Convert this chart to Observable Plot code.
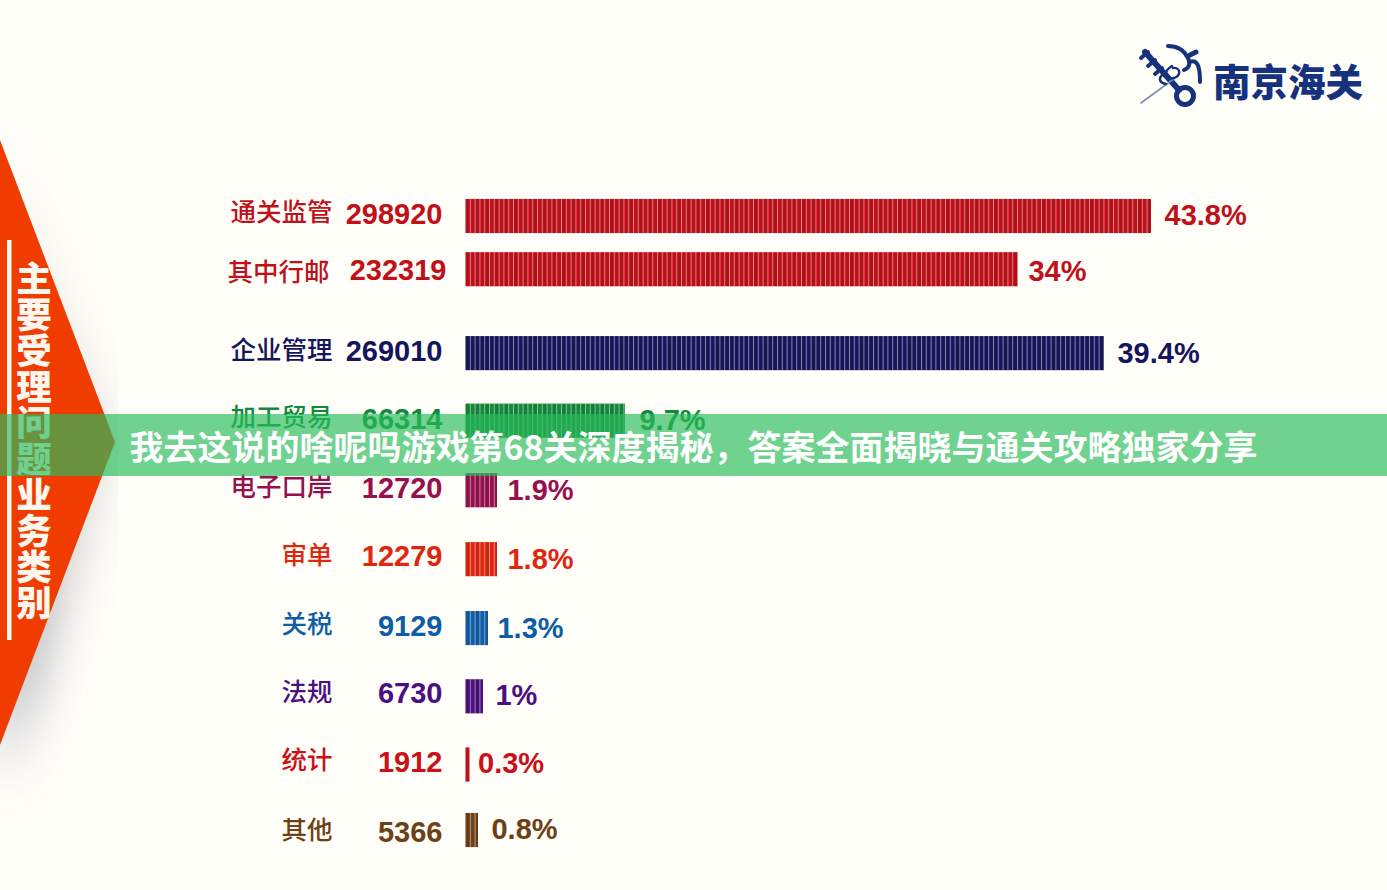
<!DOCTYPE html>
<html lang="zh">
<head>
<meta charset="utf-8">
<script src="https://cdn.jsdelivr.net/npm/d3@7"></script>
<script src="https://cdn.jsdelivr.net/npm/@observablehq/plot@0.6"></script>
<style>
html,body{margin:0;padding:0;background:#fffef9;width:1387px;height:890px;overflow:hidden;}
#stage{position:relative;width:1387px;height:890px;font-family:"Noto Sans CJK SC",sans-serif;}
#stage>*{position:absolute;left:0;top:0;}
#band{top:414px;width:1387px;height:62px;background:rgba(40,188,91,.67);color:#fff;font-weight:700;font-size:34px;line-height:63px;text-align:center;white-space:nowrap;}
#vertical{left:12px;top:259px;width:44px;color:#fff6ee;font-weight:900;font-size:35.5px;line-height:36px;text-align:center;}
#logoText{left:1213px;top:57px;color:#17327c;font-weight:900;font-size:37.5px;line-height:46px;white-space:nowrap;}
</style>
</head>
<body>
<div id="stage">
<svg width="1387" height="890" viewBox="0 0 1387 890">
  <defs>
    <filter id="blur" x="-60%" y="-30%" width="220%" height="160%"><feGaussianBlur stdDeviation="26"/></filter>
    <linearGradient id="shade" x1="0" y1="0" x2="0" y2="1">
      <stop offset="0" stop-color="#bbb" stop-opacity=".15"/>
      <stop offset=".55" stop-color="#999" stop-opacity=".5"/>
      <stop offset=".85" stop-color="#889" stop-opacity=".85"/>
      <stop offset="1" stop-color="#889" stop-opacity=".5"/>
    </linearGradient>
    <clipPath id="shadeClip"><rect x="0" y="120" width="118" height="720"/></clipPath>
    <pattern id="seps" patternUnits="userSpaceOnUse" x="465" y="0" width="9.6" height="10">
      <rect x="0" y="0" width="1" height="10" fill="#fff3ec" fill-opacity=".5"/>
      <rect x="1" y="0" width="3.8" height="10" fill="#000" fill-opacity=".07"/>
      <rect x="4.8" y="0" width="1" height="10" fill="#fff3ec" fill-opacity=".5"/>
    </pattern>
  </defs>
  <g clip-path="url(#shadeClip)">
    <polygon points="0,150 105,440 0,790" fill="url(#shade)" filter="url(#blur)"/>
  </g>
  <polygon points="0,140 115,442 0,745" fill="#f03c00"/>
  <rect x="7" y="240" width="4.5" height="400" fill="#fff6ee"/>
  <g id="logoMark" fill="none" stroke="#17327c" stroke-linecap="round">
    <circle cx="1185" cy="96" r="8.5" stroke-width="5"/>
    <path d="M1179 90 L1145 52" stroke-width="6"/>
    <path d="M1148 66 l7 -6 M1155 74 l7 -6 M1141 58 l7 -6" stroke-width="4"/>
    <path d="M1175 78 L1141 103" stroke="#7d8db5" stroke-width="1.6"/>
    <path d="M1172 66 c-10 6 -6 14 2 12 c8 -3 6 -11 -1 -10 M1166 84 c-6 -1 -8 -5 -4 -9" stroke-width="2.4"/>
    <path d="M1168 46 c10 0 16 4 20 12 c3 6 1 10 -4 12 M1189 62 c8 -3 11 3 11 20" stroke-width="4"/>
    <path d="M1190 55 l6 -3" stroke-width="5"/>
  </g>
</svg>
<div id="chart"></div>
<div id="vertical">主要受理问题业务类别</div>
<div id="logoText">南京海关</div>
<div id="band">我去这说的啥呢吗游戏第68关深度揭秘，答案全面揭晓与通关攻略独家分享</div>
</div>
<script>
// Categories and the figures printed beside them
const categories = ["通关监管","其中行邮","企业管理","加工贸易","电子口岸","审单","关税","法规","统计","其他"];
const counts = [298920,232319,269010,66314,12720,12279,9129,6730,1912,5366];
const shares = ["43.8%","34%","39.4%","9.7%","1.9%","1.8%","1.3%","1%","0.3%","0.8%"];
// Bar lengths as drawn in the picture, in the same units as the largest count
const drawnLengths = [298920,240950,278430,69700,13940,13940,10020,7840,1960,5660];

// Layout only: row slots (rows are unevenly spaced) and per-row text nudges in pixels
const rowSlots = [0,0.78,2.01,3,4.02,5.03,6.04,7.04,8.04,9];
const labelNudgeY = [-4,3,-3,-3,-3,-4,-4,-4,-4,0];
const countNudgeY = [-2,1,-2,-1,-2,-3,-2,-3,-2,2];
const shareNudgeY = [-1,2,0,0,0,0,0,-1,-1,-1];
const shareGapPx = [13,10,13,14,10,10,9,12,8,13];
const palette = ["#c0101a","#c0101a","#15155e","#12893c","#96104f","#e0260f","#0e5da8","#4a0f80","#cc1018","#6e4015"];

const PX_Y = 614/9, PX_X = 686/298920;
const rows = categories.map((name,i)=>({
  name,count:String(counts[i]),share:shares[i],len:drawnLengths[i],slot:rowSlots[i],
  labelY:rowSlots[i]+labelNudgeY[i]/PX_Y,
  countY:rowSlots[i]+countNudgeY[i]/PX_Y,
  shareY:rowSlots[i]+shareNudgeY[i]/PX_Y,
  shareX:drawnLengths[i]+shareGapPx[i]/PX_X,
  labelX:i===1?-3/PX_X:0,
  countX:i===1?4/PX_X:0
}));
const latin = '"Liberation Sans",Arial,sans-serif';

const chart = Plot.plot({
  width:1387,height:890,margin:0,
  style:{background:"transparent",fontFamily:latin},
  x:{domain:[0,298920],range:[465,1151],axis:null},
  y:{domain:[0,9],range:[216,830],axis:null},
  color:{domain:categories,range:palette},
  marks:[
    Plot.rect(rows,{x1:0,x2:"len",y1:d=>d.slot-.25,y2:d=>d.slot+.25,fill:"name"}),
    Plot.rect(rows,{x1:0,x2:"len",y1:d=>d.slot-.25,y2:d=>d.slot+.25,fill:"url(#seps)"}),
    Plot.text(rows,{x:"labelX",y:"labelY",text:"name",fill:"name",textAnchor:"end",dx:-133,fontSize:25.5,fontFamily:'"Noto Sans CJK SC"',fontWeight:500}),
    Plot.text(rows,{x:"countX",y:"countY",text:"count",fill:"name",textAnchor:"end",dx:-23,fontSize:29,fontWeight:700}),
    Plot.text(rows,{x:"shareX",y:"shareY",text:"share",fill:"name",textAnchor:"start",fontSize:29,fontWeight:700})
  ]
});
document.getElementById("chart").appendChild(chart);
</script>
</body>
</html>
